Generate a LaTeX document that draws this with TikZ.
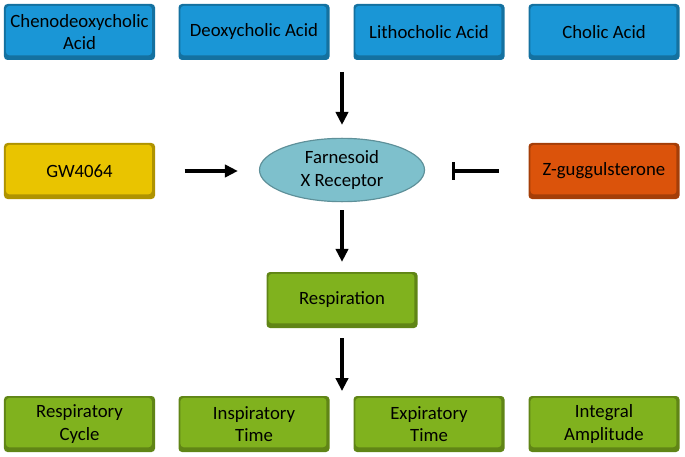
\documentclass[tikz,border=0pt]{standalone}
\usepackage{fontspec}
\setmainfont{Carlito}
\usetikzlibrary{arrows.meta,shapes.geometric}
\definecolor{acidblue}{HTML}{1A96D6}
\definecolor{agonistyellow}{HTML}{E9C400}
\definecolor{antagorange}{HTML}{DB530B}
\definecolor{respgreen}{HTML}{80B21E}
\definecolor{fxrteal}{HTML}{7EC0CC}
\tikzset{
  panel/.style={rounded corners=3pt, fill=#1!75!black, align=center,
    minimum width=4.53cm, minimum height=1.68cm, inner sep=0pt,
    font=\fontsize{16}{19}\selectfont,
    path picture={\fill[#1] ([shift={(1.6pt,-1.6pt)}]path picture bounding box.north west)
      rectangle ([shift={(-2.6pt,4pt)}]path picture bounding box.south east);}},
  acid/.style={panel=acidblue},
  resp/.style={panel=respgreen},
  link/.style={line width=2.6pt, -{Triangle[length=11pt,width=10.5pt]}},
  block/.style={line width=2.6pt, -{Bar[width=15pt,line width=2.6pt]}}
}
\begin{document}
\begin{tikzpicture}[x=0.03cm,y=-0.03cm]
  \useasboundingbox (0,0) rectangle (685,457);
  % bile acids
  \node[acid] (cdca) at (79.5,32) {Chenodeoxycholic\\Acid};
  \node[acid] (dca) at (254,32) {Deoxycholic Acid};
  \node[acid] (lca) at (429,32) {Lithocholic Acid};
  \node[acid] (ca) at (604,32) {Cholic Acid};
  % receptor and its ligands
  \node[ellipse, fill=fxrteal, draw=fxrteal!75!black, line width=1pt,
        minimum width=4.95cm, minimum height=1.9cm, inner sep=0pt, align=center,
        font=\fontsize{16}{19}\selectfont] (fxr) at (342,170) {Farnesoid\\X Receptor};
  \node[panel=agonistyellow] (gw) at (79.5,171) {GW4064};
  \node[panel=antagorange] (zg) at (604,171) {Z-guggulsterone};
  \node[resp] (resp) at (342,300) {Respiration};
  % outcomes
  \node[resp] (cycle) at (79.5,424) {Respiratory\\Cycle};
  \node[resp] (insp) at (254,424) {Inspiratory\\Time};
  \node[resp] (exp) at (429,424) {Expiratory\\Time};
  \node[resp] (amp) at (604,424) {Integral\\Amplitude};
  % connectors
  \coordinate (acids) at (342,72);
  \coordinate (outcomes) at (342,391);
  \draw[link, shorten >=11pt] (acids) -- (fxr.north);
  \draw[link, shorten <=25pt, shorten >=18pt] (gw.east) -- (gw.east -| fxr.west);
  \draw[block, shorten <=25pt, shorten >=23pt] (zg.west) -- (zg.west -| fxr.east);
  \draw[link, shorten <=7pt, shorten >=8.5pt] (fxr.south) -- (resp.north);
  \draw[link, shorten <=8.5pt] (resp.south) -- (outcomes);
\end{tikzpicture}
\end{document}
